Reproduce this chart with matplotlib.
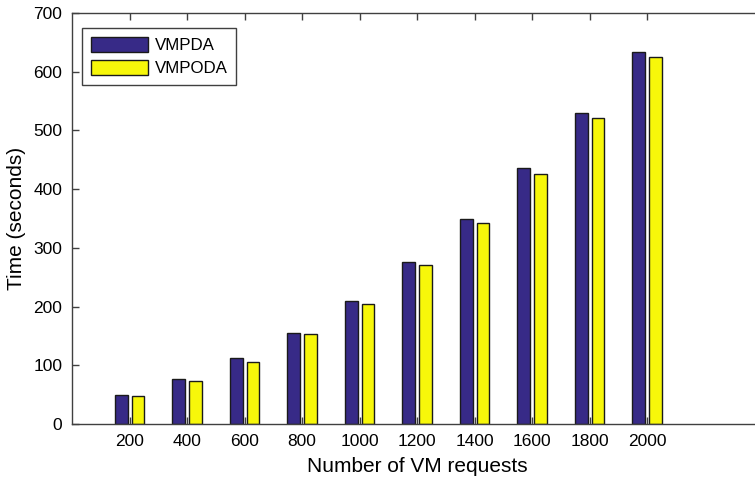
import numpy as np
import matplotlib
matplotlib.use('Agg')
import matplotlib.pyplot as plt

plt.rcParams['font.family'] = ['Liberation Sans', 'DejaVu Sans']

requests = ['200', '400', '600', '800', '1000', '1200', '1400', '1600', '1800', '2000']
vmpda = [50, 76, 112, 155, 209, 276, 350, 436, 529, 634]
vmpoda = [47, 74, 105, 153, 205, 271, 343, 426, 522, 625]

fig = plt.figure(figsize=(7.55, 4.84), dpi=100)
ax = fig.add_axes([0.0954, 0.124, 0.914, 0.849])

x = np.arange(1, len(requests) + 1)
w = 0.22
off = 0.145
ax.bar(x - off, vmpda, w, color='#372A87', edgecolor='#1a1a1a', linewidth=1.0, label='VMPDA')
ax.bar(x + off, vmpoda, w, color='#F7F70A', edgecolor='#1a1a1a', linewidth=1.0, label='VMPODA')

ax.set_xlim(0, 12)
ax.set_ylim(0, 700)
ax.set_xticks(x)
ax.set_xticklabels(requests)
ax.set_yticks(range(0, 701, 100))
ax.tick_params(direction='in', length=5, width=1, colors='#404040', labelcolor='black',
               labelsize=12.5, top=True, right=True, pad=7)
for s in ax.spines.values():
    s.set_color('#404040')
    s.set_linewidth(1)

ax.set_xlabel('Number of VM requests', fontsize=15, labelpad=6)
ax.set_ylabel('Time (seconds)', fontsize=15, labelpad=5)

leg = ax.legend(loc='upper left', bbox_to_anchor=(0.0145, 0.9635), fontsize=12.2, fancybox=False,
                edgecolor='#404040', framealpha=1, handlelength=3.4, handleheight=1.0,
                borderpad=0.5, labelspacing=0.4, handletextpad=0.4, borderaxespad=0)
leg.get_frame().set_linewidth(1)

fig.savefig('out.png', dpi=100)
